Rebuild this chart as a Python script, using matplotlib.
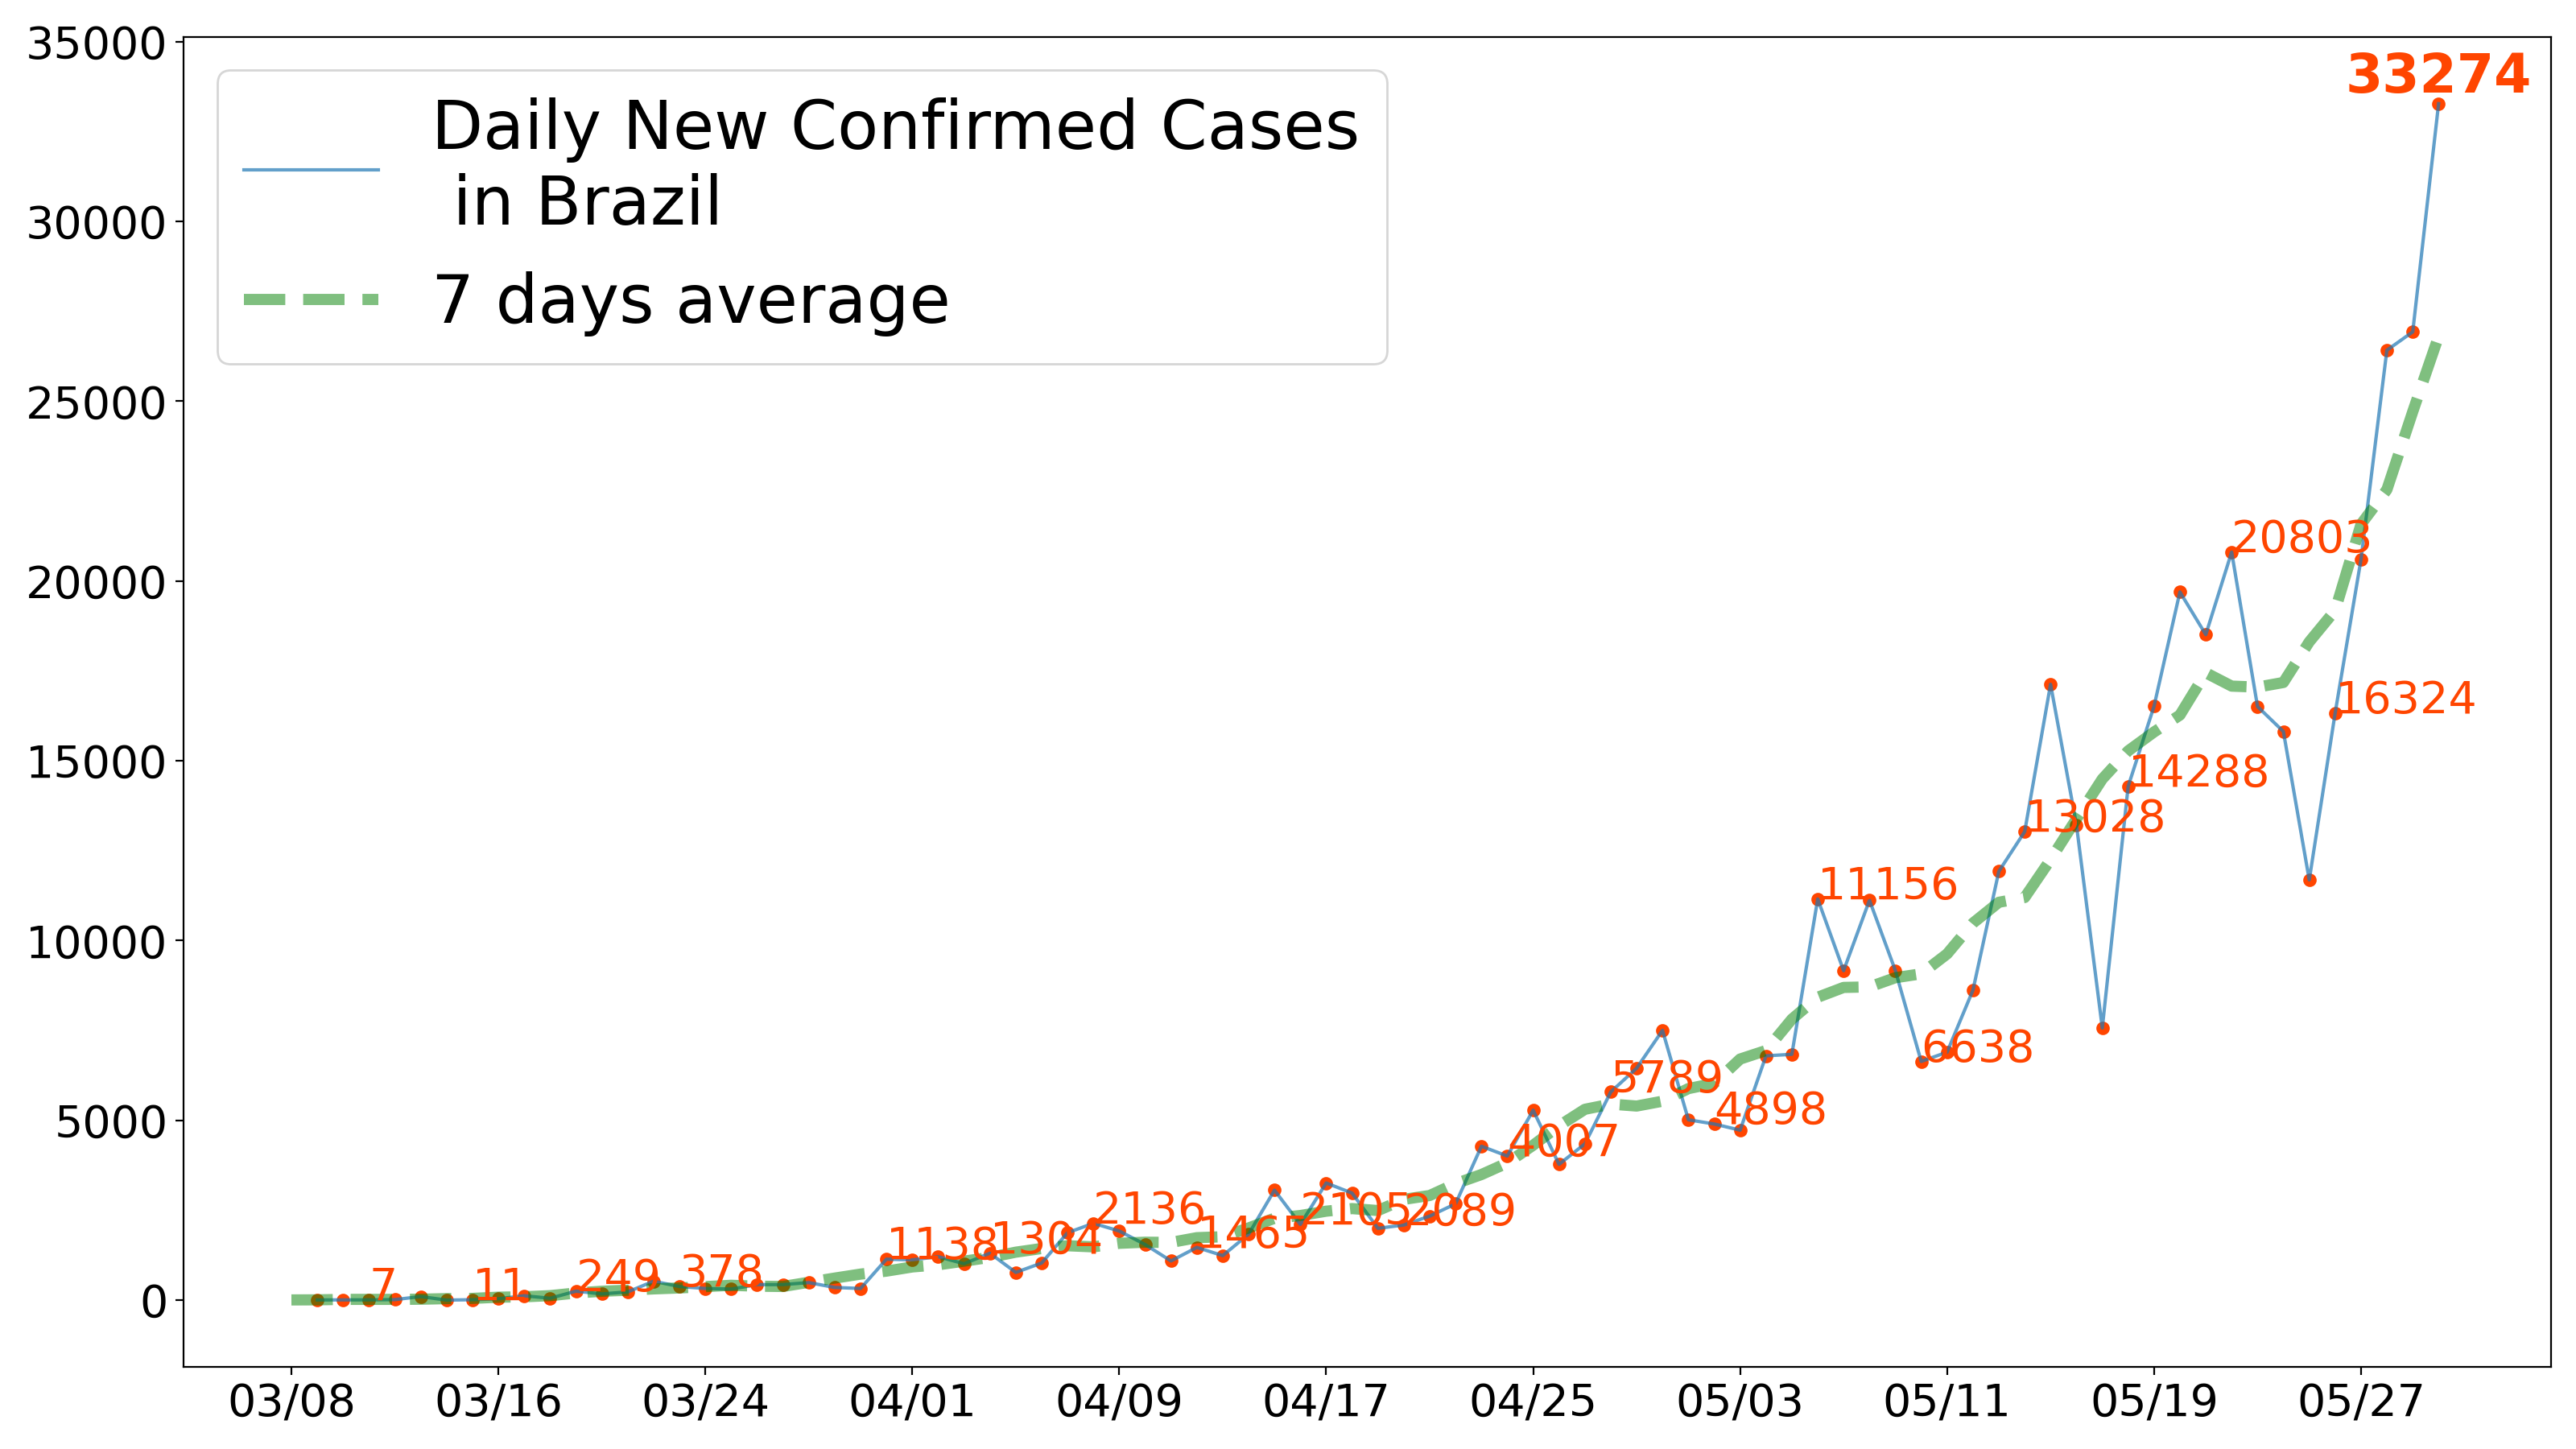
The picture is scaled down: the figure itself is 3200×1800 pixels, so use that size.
import matplotlib
matplotlib.use("Agg")
import matplotlib.pyplot as plt

# x positions are day offsets from 03/08
tick_labels = ["03/08", "03/16", "03/24", "04/01", "04/09", "04/17",
               "04/25", "05/03", "05/11", "05/19", "05/27"]
tick_days = [0, 8, 16, 24, 32, 40, 48, 56, 64, 72, 80]

# daily new confirmed cases, 03/09 .. 05/30
daily_days = list(range(1, 84))
daily_cases = [
    5, 6, 7, 14, 99, 0, 11, 38, 121, 51, 249, 172, 228, 525, 378, 323, 307,
    431, 432, 487, 352, 323, 1138,
    1119, 1208, 1012, 1304, 770, 1031, 1873, 2136, 1922, 1546, 1089, 1465,
    1238, 1832, 3058, 2105, 3257, 2976, 1996, 2089, 2336, 2678, 4279, 4007,
    5281, 3776, 4346, 5789, 6450, 7502,
    5015, 4898, 4726, 6794, 6835, 11156, 9162, 11121, 9167, 6638, 6895, 8620,
    11923, 13028, 17126, 13220, 7569, 14288, 16517, 19694, 18508, 20803,
    16508, 15813, 11687, 16324, 20599, 26417, 26928, 33274,
]

# 7 days average, 03/08 .. 05/30
avg_days = list(range(0, 84))
avg_cases = [
    5, 7, 20, 20, 20, 25, 41, 48, 81, 92, 124, 198, 246, 275, 312, 338, 375,
    412, 387, 379, 496, 612, 723, 806,
    922, 982, 1083, 1188, 1333, 1435, 1512, 1481, 1580, 1610, 1604, 1736,
    1762, 2006, 2276, 2352, 2473, 2545, 2491, 2802, 2909, 3238, 3492, 3815,
    4308, 4847, 5307, 5451, 5397, 5532,
    5882, 6031, 6704, 6941, 7813, 8423, 8696, 8711, 8966, 9075, 9627, 10485,
    11064, 11197, 12253, 13382, 14492, 15275, 15800, 16270, 17447, 17076,
    17048, 17177, 18307, 19182, 21577, 22538, 24708, 26805,
]

# annotated points (day offset, value)
label_days = [3, 7, 11, 15, 23, 27, 31, 35, 39, 43, 47, 51, 55, 59, 63, 67,
              71, 75, 79]
label_values = [7, 11, 249, 378, 1138, 1304, 2136, 1465, 2105, 2089, 4007,
                5789, 4898, 11156, 6638, 13028, 14288, 20803, 16324]
last_day = 83
last_value = 33274

fig = plt.figure(figsize=(16, 9), dpi=200)
ax = fig.add_axes([0.07125, 0.0568, 0.9190, 0.9178])

ax.scatter(daily_days, daily_cases, s=25, color="orangered", zorder=1)
ax.plot(daily_days, daily_cases, color="tab:blue", alpha=0.7, lw=1.5,
        label="Daily New Confirmed Cases\n in Brazil")
ax.plot(avg_days, avg_cases, color="green", alpha=0.5, lw=5, ls="--",
        label="7 days average")

for d, v in zip(label_days, label_values):
    ax.text(d, v, str(v), color="orangered", fontsize=20)
ax.text(last_day, last_value, str(last_value), color="orangered",
        fontsize=24, fontweight="bold", ha="center", va="bottom")

ax.set_xticks(tick_days)
ax.set_xticklabels(tick_labels)
ax.set_yticks([0, 5000, 10000, 15000, 20000, 25000, 30000, 35000])
ax.tick_params(labelsize=20)
ax.set_xlim(-4.17, 87.34)
ax.set_ylim(-1852, 35134)

ax.legend(loc="upper left", fontsize=30)

fig.savefig("out.png", dpi=200)
